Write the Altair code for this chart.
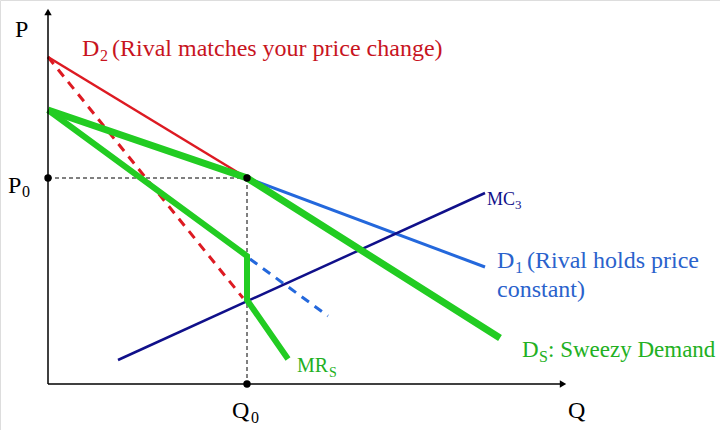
import altair as alt
import pandas as pd

# ---- data (Q, P units measured from the origin) ----
d2_q = [0, 199]; d2_p = [327, 206]                 # D2 demand (rival matches)
mr2_q = [0, 195]; mr2_p = [327, 86]                # MR of D2 (dashed)
d1_q = [199, 437]; d1_p = [206, 117]               # D1 demand (rival holds)
mr1_q = [202, 280]; mr1_p = [125, 68]              # MR of D1 (dashed)
ds_q = [0, 199, 452]; ds_p = [274, 206, 46]        # Sweezy demand
mrs_q = [0, 199, 199, 240]; mrs_p = [274, 128, 84, 25]  # Sweezy MR
mc_q = [70, 437]; mc_p = [24, 191]                 # MC3
p0 = 206; q0 = 199

def seg(name, qs, ps):
    return pd.DataFrame({"series": name, "order": list(range(len(qs))), "Q": qs, "P": ps})

X = alt.X("Q:Q", scale=alt.Scale(domain=[-48, 672], nice=False, zero=False), axis=None)
Y = alt.Y("P:Q", scale=alt.Scale(domain=[-46, 384], nice=False, zero=False), axis=None)

def line(df, color, width, dash=None):
    kw = dict(color=color, strokeWidth=width, strokeCap="butt", strokeJoin="miter")
    if dash:
        kw["strokeDash"] = dash
    return alt.Chart(df).mark_line(**kw).encode(x=X, y=Y, order="order:Q")

axes_y = line(seg("yaxis", [0, 0], [0, 370]), "black", 1.5)
axes_x = line(seg("xaxis", [0, 514], [0, 0]), "black", 1.5)
arrows = alt.Chart(pd.DataFrame({"Q": [0], "P": [372]})).mark_point(
    shape="triangle-up", filled=True, color="black", size=55, opacity=1).encode(x=X, y=Y)
arrowx = alt.Chart(pd.DataFrame({"Q": [515], "P": [0]})).mark_point(
    shape="triangle-right", filled=True, color="black", size=55, opacity=1).encode(x=X, y=Y)

guide_h = line(seg("gh", [0, q0], [p0, p0]), "black", 1, [4, 3])
guide_v = line(seg("gv", [q0, q0], [p0, 0]), "black", 1, [4, 3])

red = "#dd1a22"; blue = "#2468dc"; navy = "#10108a"; green = "#22cc22"

layers = [
    guide_h, guide_v,
    line(seg("mr2", mr2_q, mr2_p), red, 3, [9, 7]),
    line(seg("d2", d2_q, d2_p), red, 2.5),
    line(seg("mr1", mr1_q, mr1_p), blue, 3, [9, 7]),
    line(seg("d1", d1_q, d1_p), blue, 3),
    line(seg("mc", mc_q, mc_p), navy, 2.5),
    line(seg("ds", ds_q, ds_p), green, 7),
    line(seg("mrs", mrs_q, mrs_p), green, 6),
    axes_y, axes_x, arrows, arrowx,
]

dots = alt.Chart(pd.DataFrame({"Q": [0, q0, q0], "P": [p0, p0, 0]})).mark_circle(
    color="black", size=55, opacity=1).encode(x=X, y=Y)
layers.append(dots)

# labels: text, Q, P, size, color
lab_text = ["P", "P", "0", "Q", "0", "Q",
            "D", "2", "(Rival matches your price change)",
            "MC", "3",
            "D", "1", "(Rival holds price", "constant)",
            "MR", "S",
            "D", "S", ": Sweezy Demand"]
lab_q = [-33, -40, -26, 184, 203, 520,
         34, 52, 64,
         439, 467,
         449, 467, 479, 449,
         249, 281,
         474, 491, 500]
lab_p = [347, 191, 187, -34, -39, -34,
         328, 323, 328,
         179, 175,
         116, 111, 116, 87,
         12, 7,
         27, 22, 27]
lab_size = [24, 24, 16, 24, 16, 24,
            24, 16, 24,
            18, 13,
            24, 16, 24, 24,
            20, 14,
            23, 16, 23]
dark_red = "#c8141e"; lab_blue = "#2a62cc"; lab_green = "#22b022"
lab_color = ["black", "black", "black", "black", "black", "black",
             dark_red, dark_red, dark_red,
             navy, navy,
             lab_blue, lab_blue, lab_blue, lab_blue,
             lab_green, lab_green,
             lab_green, lab_green, lab_green]

labels = pd.DataFrame({"t": lab_text, "Q": lab_q, "P": lab_p, "s": lab_size, "c": lab_color})
text = alt.Chart(labels).mark_text(
    align="left", baseline="alphabetic", font="Liberation Serif").encode(
    x=X, y=Y, text="t:N",
    size=alt.Size("s:Q", scale=None, legend=None),
    color=alt.Color("c:N", scale=None, legend=None))
layers.append(text)

chart = alt.layer(*layers).properties(
    width=720, height=430, padding=0, autosize=alt.AutoSizeParams(type="none")
).configure_view(stroke=None).configure(background="white")

chart.save("out.html", embed_options={"renderer": "svg", "actions": False})
